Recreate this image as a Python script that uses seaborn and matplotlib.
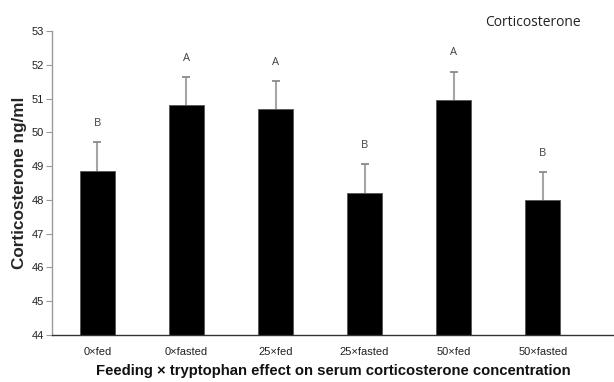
import matplotlib
matplotlib.use("Agg")
import matplotlib.pyplot as plt
import seaborn as sns
import pandas as pd
import numpy as np

categories = ["0×fed", "0×fasted", "25×fed", "25×fasted", "50×fed", "50×fasted"]
means = [48.85, 50.8, 50.68, 48.2, 50.95, 48.0]
errors = [0.87, 0.85, 0.85, 0.87, 0.85, 0.83]
letters = ["B", "A", "A", "B", "A", "B"]

df = pd.DataFrame({"group": categories, "value": means})

sns.set_style("white")
plt.rcParams["font.family"] = ["Liberation Sans", "DejaVu Sans"]

fig = plt.figure(figsize=(6.14, 3.82), dpi=100)
ax = fig.add_axes([52 / 614, 47 / 382, 1 - 52 / 614, (335 - 31) / 382])

sns.barplot(data=df, x="group", y="value", color="black", width=0.39,
            edgecolor="#555555", linewidth=0.6, ax=ax, bottom=0, zorder=2)

x = np.arange(len(categories))
m_arr = np.array(means)
e_arr = np.array(errors)
ax.errorbar(x, m_arr, yerr=[np.zeros(len(means)), e_arr], fmt="none",
            ecolor="#a5a5a5", elinewidth=1.5, capsize=0, zorder=1)
ax.plot(x, m_arr + e_arr, linestyle="none", marker="_", markersize=6,
        markeredgewidth=1.3, color="#8a8a8a", zorder=1)

for xi, m, e, l in zip(x, means, errors, letters):
    ax.text(xi, m + e + 0.55, l, ha="center", va="center", fontsize=8,
            color="#404040", family=["Open Sans", "DejaVu Sans"])

ax.set_ylim(44, 53)
ax.set_xlim(-0.51, 5.8)
ax.set_yticks(range(44, 54))
ax.tick_params(axis="y", direction="out", length=4, color="#9a9a9a",
               labelsize=8, labelcolor="#222222", left=True, pad=2)
ax.tick_params(axis="x", length=0, labelsize=8, labelcolor="#222222", pad=8.5)

for s in ["top", "right"]:
    ax.spines[s].set_visible(False)
ax.spines["left"].set_color("#9a9a9a")
ax.spines["bottom"].set_color("#333333")
ax.spines["left"].set_linewidth(1.0)
ax.spines["bottom"].set_linewidth(1.0)

ax.set_ylabel("Corticosterone ng/ml", fontsize=12.3, fontweight="bold", labelpad=3)
ax.set_xlabel("Feeding × tryptophan effect on serum corticosterone concentration",
              fontsize=10.7, fontweight="bold", labelpad=5.5, color="#111111")

fig.text(533 / 614, 1 - 22 / 382, "Corticosterone", ha="center", va="center",
         fontsize=10, color="#222222", family=["Open Sans", "DejaVu Sans"])

fig.savefig("out.png", dpi=100)
